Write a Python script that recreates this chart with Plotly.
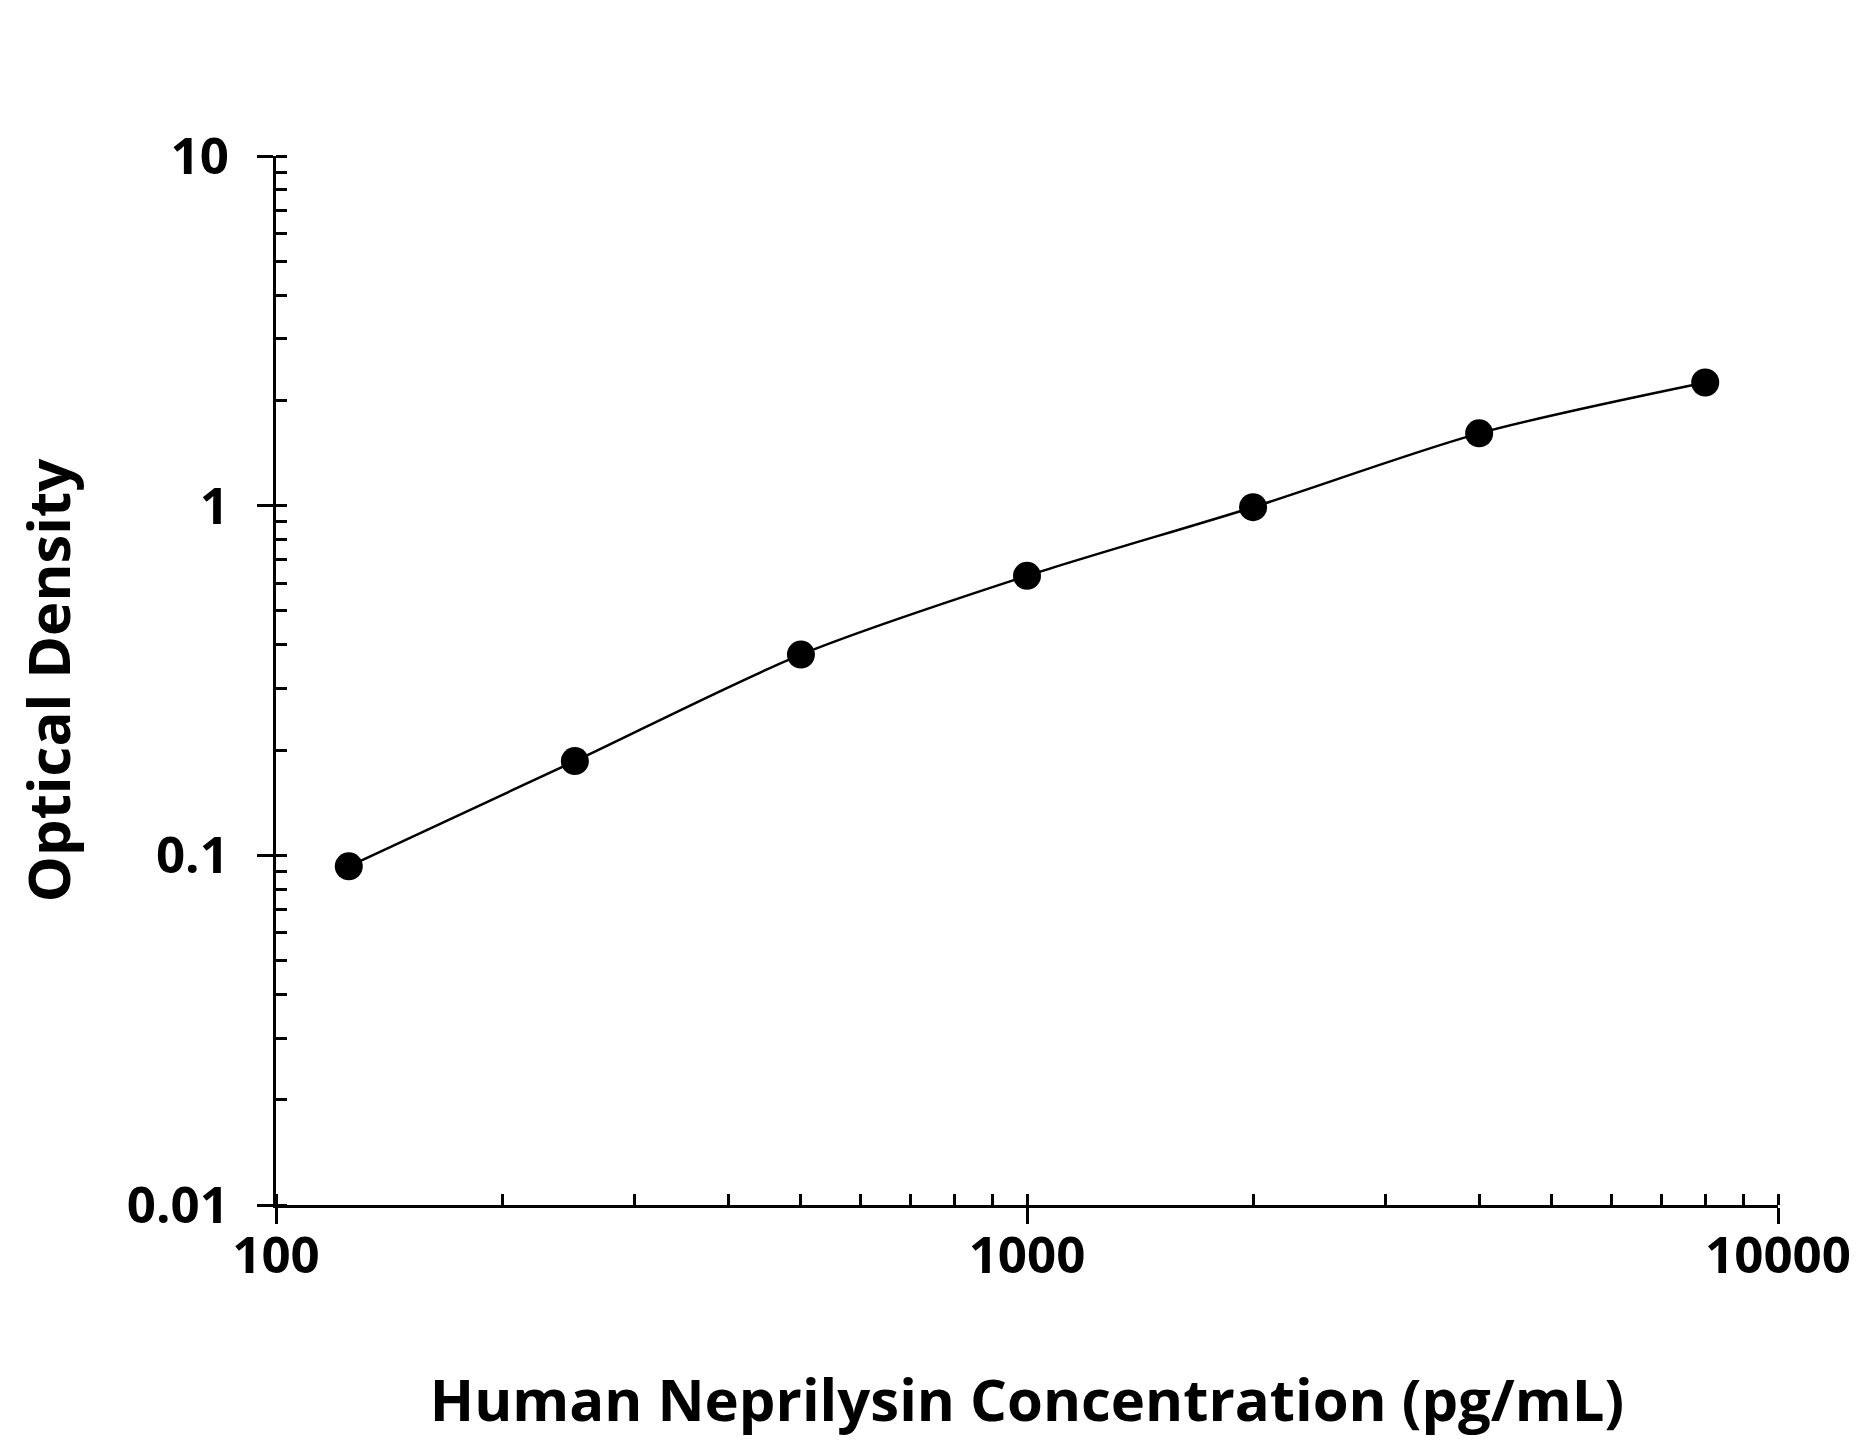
import plotly.graph_objects as go

# standard curve readings
conc = [125, 250, 500, 1000, 2000, 4000, 8000]
od = [0.093, 0.186, 0.375, 0.63, 0.99, 1.61, 2.25]

x_ticks = [100, 1000, 10000]
x_labels = ["100", "1000", "10000"]
y_ticks = [0.01, 0.1, 1, 10]
y_labels = ["0.01", "0.1", "1", "10"]

FONT = "Open Sans"

trace = go.Scatter(
    x=conc,
    y=od,
    mode="lines+markers",
    line=dict(color="black", width=2.5, shape="spline", smoothing=0.8),
    marker=dict(color="black", size=28),
    showlegend=False,
)

fig = go.Figure(data=[trace])

axis_common = dict(
    type="log",
    automargin=False,
    showline=True,
    linecolor="black",
    linewidth=3,
    ticks="outside",
    ticklen=16,
    tickwidth=3,
    tickcolor="black",
    showgrid=False,
    zeroline=False,
    tickfont=dict(family=FONT, size=51, color="black", weight="bold"),
    minor=dict(ticks="inside", ticklen=11, tickwidth=2.5, tickcolor="black",
               dtick="D1", showgrid=False),
)

fig.update_xaxes(
    **axis_common,
    range=[2, 4],
    tickvals=x_ticks,
    ticktext=x_labels,
    ticklabelstandoff=-12,
    title=dict(text="Human Neprilysin Concentration (pg/mL)",
               font=dict(family=FONT, size=58, color="black", weight="bold"),
               standoff=94),
)
fig.update_yaxes(
    **axis_common,
    range=[-2, 1],
    tickvals=y_ticks,
    ticktext=y_labels,
    ticklabelstandoff=18,
    title=dict(text="Optical Density",
               font=dict(family=FONT, size=58, color="black", weight="bold"),
               standoff=41),
)

# page body adds an 8px offset, so the figure is 8px smaller than the window
fig.update_layout(
    width=1851,
    height=1437,
    margin=dict(l=268, r=81, t=148, b=240),
    plot_bgcolor="white",
    paper_bgcolor="white",
)

fig.write_html("out.html")
